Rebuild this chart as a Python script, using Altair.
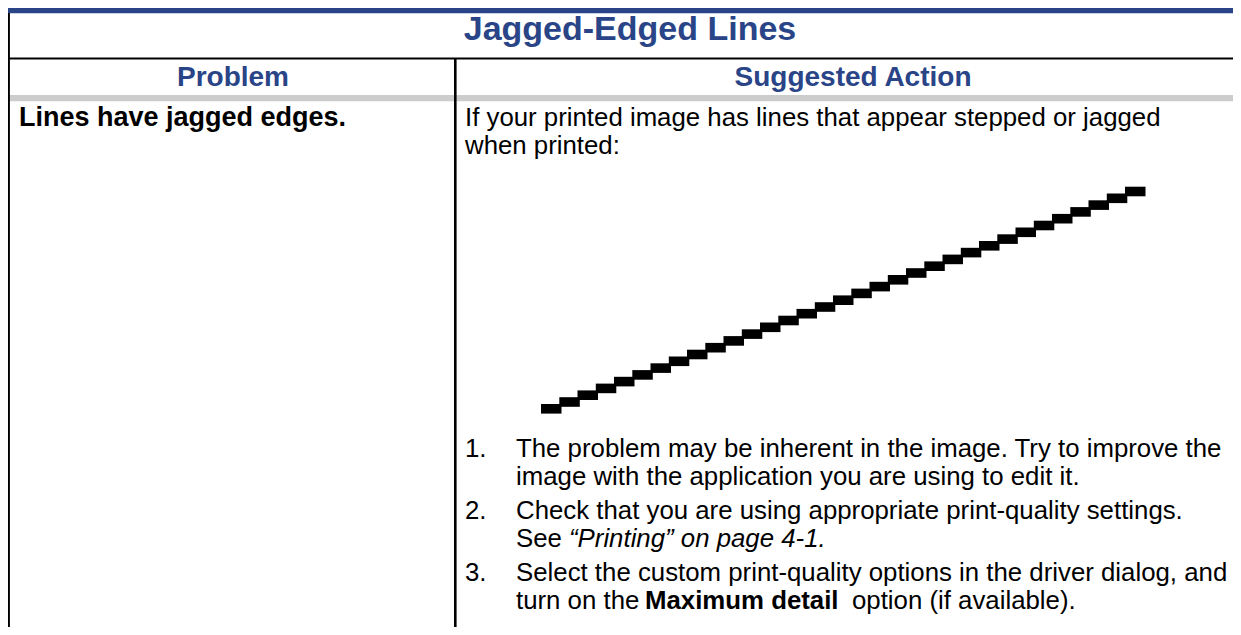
import altair as alt
import pandas as pd

BLUE = "#2A4587"
FONT = "Liberation Sans"

# ---- frame pieces of the table (page pixel space) ----
frame_name = ["top bar", "title rule", "header band", "left border", "column divider"]
frame_x1 = [8, 8, 8, 8, 454]
frame_x2 = [1241, 1241, 1241, 9.9, 456.6]
frame_y1 = [8, 57.4, 95, 13, 58]
frame_y2 = [13.2, 59.6, 101.3, 635, 635]
frame_color = [BLUE, "#000000", "#cccccc", "#000000", "#000000"]

# ---- stair-stepped sample line (block left edge / top edge) ----
stair_x = [541, 559.3, 577.5, 595.8, 614, 632.3, 650.5, 668.8, 687, 705.3, 723.5,
           741.8, 760, 778.3, 796.5, 814.8, 833, 851.3, 869.5, 887.8, 906, 924.3,
           942.5, 960.8, 979, 997.3, 1015.5, 1033.8, 1052, 1070.3, 1088.5, 1106.8, 1125]
stair_y = [404, 397.2, 390.4, 383.6, 376.8, 370.1, 363.3, 356.5, 349.7, 342.9, 336.1,
           329.3, 322.5, 315.7, 308.9, 302.2, 295.4, 288.6, 281.8, 275, 268.2, 261.4,
           254.6, 247.8, 241, 234.3, 227.5, 220.7, 213.9, 207.1, 200.3, 193.5, 186.7]

# ---- texts ----
title_text = ["Jagged-Edged Lines"]
title_x = [630]
title_y = [39.5]

header_text = ["Problem", "Suggested Action"]
header_x = [233, 853]
header_y = [86.3, 86.3]

problem_text = ["Lines have jagged edges."]
problem_x = [19]
problem_y = [126.3]

regular_text = [
    "If your printed image has lines that appear stepped or jagged",
    "when printed:",
    "1.", "The problem may be inherent in the image. Try to improve the",
    "image with the application you are using to edit it.",
    "2.", "Check that you are using appropriate print-quality settings.",
    "See",
    "3.", "Select the custom print-quality options in the driver dialog, and",
    "turn on the",
    "option (if available).",
]
regular_x = [465, 465, 465, 516, 516, 465, 516, 516, 465, 516, 516, 852]
regular_y = [126.3, 154, 457.3, 457.3, 485, 519, 519, 546.7, 580.7, 580.7, 609, 609]

italic_text = ["\u201cPrinting\u201d on page 4-1."]
italic_x = [569]
italic_y = [546.7]

bold_text = ["Maximum detail"]
bold_x = [645]
bold_y = [609]


def df(**cols):
    return pd.DataFrame(cols)


# page is 1241 x 635 with an 8px margin: plot area covers page x 8..1233, y 8..627
X = alt.X("x:Q", scale=alt.Scale(domain=[8, 1233], nice=False, zero=False), axis=None)
Y = alt.Y("y:Q", scale=alt.Scale(domain=[8, 627], nice=False, zero=False, reverse=True), axis=None)

frame = alt.Chart(df(name=frame_name, x=frame_x1, x2=frame_x2, y=frame_y1, y2=frame_y2,
                     c=frame_color)).mark_rect(clip=True).encode(
    x=X, x2="x2:Q", y=Y, y2="y2:Q", color=alt.Color("c:N", scale=None)
)

stairs = alt.Chart(df(x=stair_x, y=stair_y)).transform_calculate(
    x2="datum.x + 20.5", y2="datum.y + 9.6"
).mark_rect(color="#000000", clip=True).encode(x=X, x2="x2:Q", y=Y, y2="y2:Q")


def text_layer(t, xs, ys, **mk):
    return alt.Chart(df(t=t, x=xs, y=ys)).mark_text(
        font=FONT, baseline="alphabetic", **mk
    ).encode(x=X, y=Y, text="t:N")


title = text_layer(title_text, title_x, title_y, fontSize=34, fontWeight="bold",
                   color=BLUE, align="center")
headers = text_layer(header_text, header_x, header_y, fontSize=28, fontWeight="bold",
                     color=BLUE, align="center")
problem = text_layer(problem_text, problem_x, problem_y, fontSize=27, fontWeight="bold",
                     color="#000000", align="left")
regular = text_layer(regular_text, regular_x, regular_y, fontSize=25.8,
                     color="#000000", align="left")
italic = text_layer(italic_text, italic_x, italic_y, fontSize=25.8, fontStyle="italic",
                    color="#000000", align="left")
bold = text_layer(bold_text, bold_x, bold_y, fontSize=25.8, fontWeight="bold",
                  color="#000000", align="left")

chart = alt.layer(frame, stairs, title, headers, problem, regular, italic, bold).properties(
    width=1225, height=619, padding=0, background="#ffffff",
    autosize=alt.AutoSizeParams(type="fit", contains="padding"),
).configure_view(stroke=None)

chart.save("out.html", embed_options={"renderer": "svg", "actions": False})
